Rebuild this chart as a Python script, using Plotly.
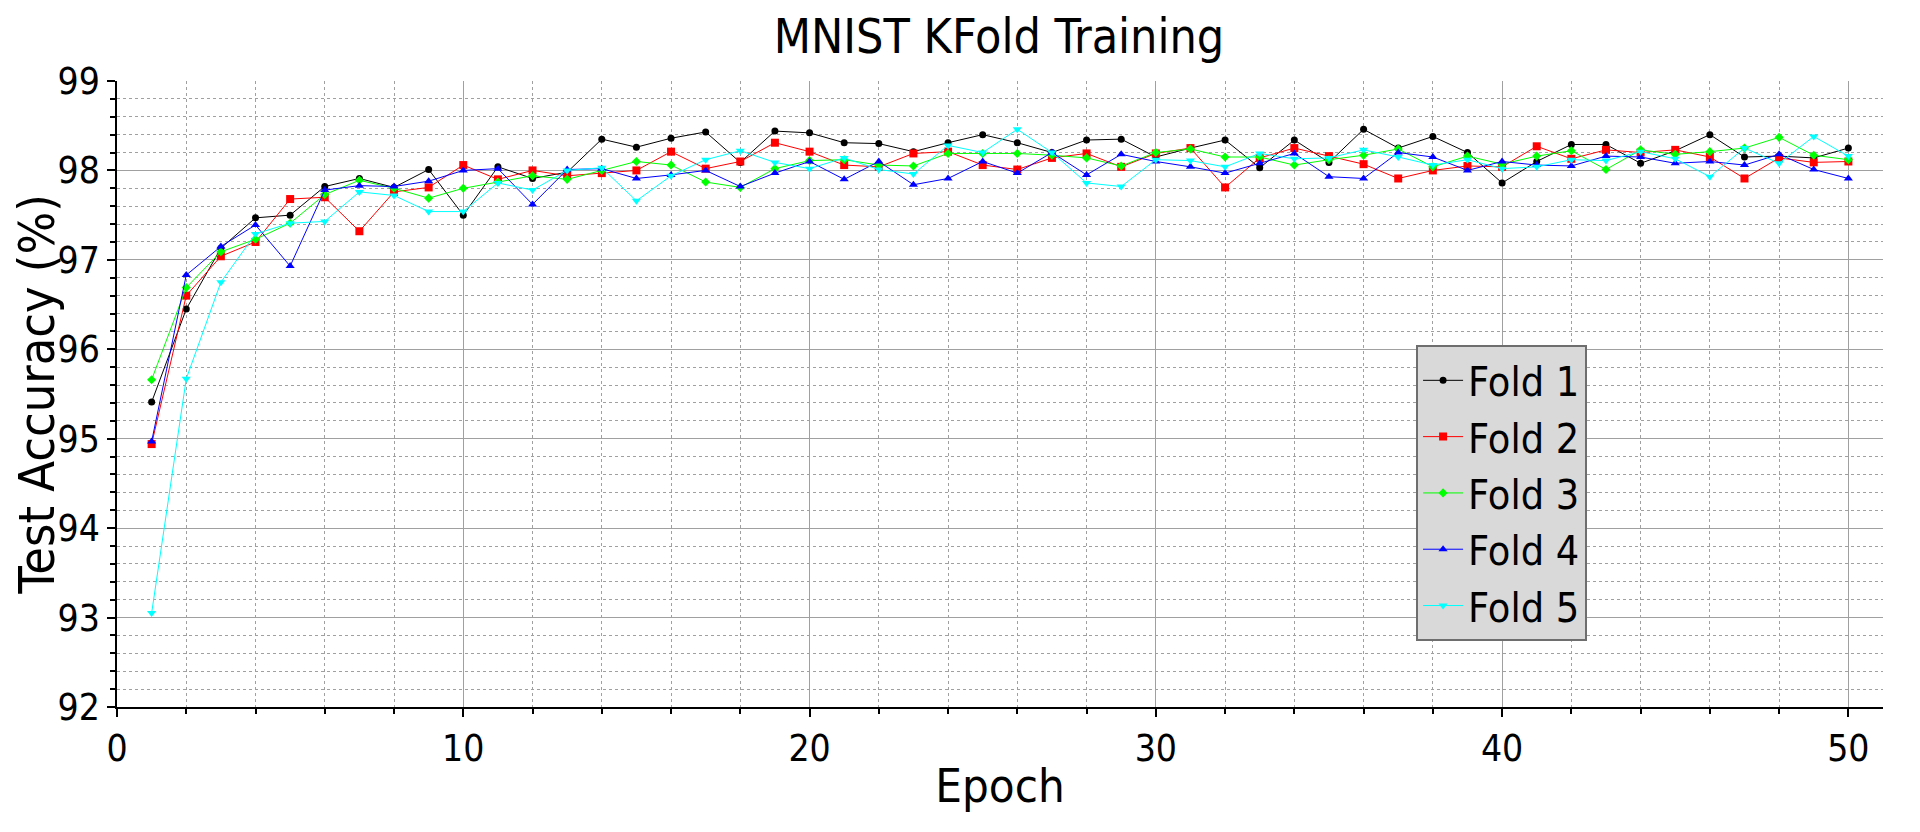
import plotly.graph_objects as go

epochs = list(range(1, 51))

fold1 = [95.41, 96.45, 97.13, 97.47, 97.50, 97.82, 97.91, 97.81, 98.01, 97.50,
         98.04, 97.91, 97.98, 98.35, 98.26, 98.36, 98.43, 98.09, 98.44, 98.42,
         98.31, 98.30, 98.21, 98.31, 98.40, 98.31, 98.20, 98.34, 98.35, 98.15,
         98.25, 98.34, 98.03, 98.34, 98.09, 98.46, 98.25, 98.38, 98.20, 97.86,
         98.10, 98.29, 98.29, 98.08, 98.22, 98.40, 98.15, 98.16, 98.14, 98.25]
fold2 = [94.94, 96.60, 97.04, 97.20, 97.68, 97.70, 97.32, 97.76, 97.81, 98.06,
         97.90, 98.00, 97.94, 97.97, 98.00, 98.21, 98.02, 98.10, 98.31, 98.21,
         98.06, 98.04, 98.19, 98.21, 98.06, 98.01, 98.14, 98.19, 98.04, 98.19,
         98.25, 97.81, 98.14, 98.25, 98.16, 98.07, 97.91, 98.00, 98.05, 98.04,
         98.27, 98.13, 98.23, 98.20, 98.23, 98.15, 97.91, 98.14, 98.09, 98.10]
fold3 = [95.66, 96.69, 97.09, 97.23, 97.41, 97.73, 97.89, 97.80, 97.69, 97.80,
         97.87, 97.94, 97.90, 98.00, 98.10, 98.06, 97.87, 97.81, 98.02, 98.11,
         98.12, 98.06, 98.05, 98.19, 98.19, 98.19, 98.17, 98.14, 98.05, 98.20,
         98.24, 98.15, 98.15, 98.06, 98.12, 98.17, 98.24, 98.04, 98.16, 98.07,
         98.16, 98.22, 98.01, 98.23, 98.18, 98.21, 98.25, 98.37, 98.17, 98.12]
fold4 = [94.97, 96.83, 97.15, 97.39, 96.93, 97.78, 97.83, 97.82, 97.88, 98.00,
         98.02, 97.62, 98.01, 98.02, 97.91, 97.95, 98.00, 97.82, 97.97, 98.10,
         97.90, 98.10, 97.84, 97.91, 98.10, 97.97, 98.20, 97.95, 98.18, 98.10,
         98.04, 97.97, 98.08, 98.19, 97.93, 97.91, 98.20, 98.15, 98.00, 98.10,
         98.06, 98.05, 98.16, 98.15, 98.08, 98.10, 98.06, 98.18, 98.01, 97.91]
fold5 = [93.05, 95.67, 96.75, 97.29, 97.41, 97.43, 97.76, 97.72, 97.54, 97.54,
         97.86, 97.78, 98.00, 98.03, 97.66, 97.94, 98.12, 98.22, 98.09, 98.02,
         98.14, 98.01, 97.96, 98.28, 98.20, 98.46, 98.20, 97.86, 97.82, 98.12,
         98.11, 98.04, 98.19, 98.13, 98.14, 98.23, 98.15, 98.06, 98.12, 98.02,
         98.04, 98.12, 98.11, 98.21, 98.13, 97.93, 98.25, 98.08, 98.38, 98.16]

names = ["Fold 1", "Fold 2", "Fold 3", "Fold 4", "Fold 5"]
series = [fold1, fold2, fold3, fold4, fold5]
colors = ["#000000", "#ff0000", "#00ff00", "#0000ff", "#00ffff"]
symbols = ["circle", "square", "diamond", "triangle-up", "triangle-down"]
msizes = [7, 8, 7, 8, 8]

FONT = "DejaVu Sans Condensed, DejaVu Sans, sans-serif"

fig = go.Figure()
for n, s, c, sym, ms in zip(names, series, colors, symbols, msizes):
    fig.add_trace(go.Scatter(
        x=epochs, y=s, name=n, mode="lines+markers",
        line=dict(color=c, width=1),
        marker=dict(symbol=sym, size=ms, color=c, line=dict(width=0)),
    ))

axis_common = dict(
    showline=True, linecolor="black", linewidth=1.5,
    ticks="outside", tickcolor="black", ticklen=8, tickwidth=1.5,
    showgrid=True, gridcolor="#a0a0a0", gridwidth=1,
    zeroline=False, mirror=False, automargin=False,
    tickfont=dict(family=FONT, size=37, color="black"),
)

fig.update_xaxes(
    range=[0, 51], dtick=10, tick0=0,
    title=dict(text="Epoch", font=dict(family=FONT, size=47, color="black"), standoff=0),
    minor=dict(dtick=2, ticks="outside", ticklen=5, tickcolor="black",
               showgrid=True, gridcolor="#a0a0a0", griddash="dot", gridwidth=1),
    **axis_common,
)
fig.update_yaxes(
    range=[92, 99], dtick=1, tick0=92,
    title=dict(text="Test Accuracy (%)", font=dict(family=FONT, size=50, color="black"), standoff=8),
    minor=dict(dtick=0.2, ticks="outside", ticklen=5, tickcolor="black",
               showgrid=True, gridcolor="#a0a0a0", griddash="dot", gridwidth=1),
    **axis_common,
)

# page body has an 8px margin, so the figure is sized to fill the 1920x832 window
fig.update_layout(
    width=1904, height=816,
    paper_bgcolor="white", plot_bgcolor="white",
    margin=dict(l=109, r=29, t=73, b=117),
    title=dict(text="MNIST KFold Training", x=0.5205, xanchor="center",
               y=0.966, yanchor="middle", yref="container",
               font=dict(family=FONT, size=48, color="black")),
    legend=dict(x=0.7356, y=0.578, xanchor="left", yanchor="top",
                bgcolor="#d9d9d9", bordercolor="#6e6e6e", borderwidth=2,
                font=dict(family=FONT, size=41, color="black"),
                itemwidth=40, tracegroupgap=0),
    showlegend=True,
)

fig.write_html("out.html")
